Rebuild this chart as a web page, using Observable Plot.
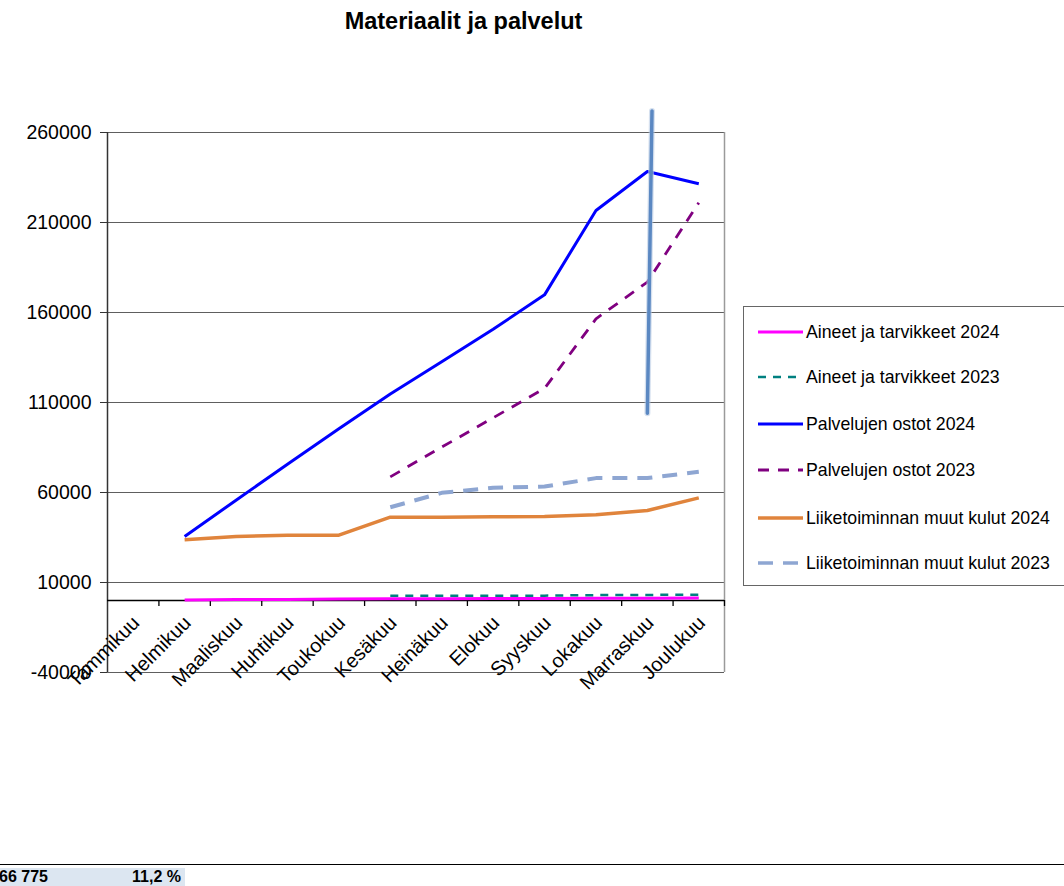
<!DOCTYPE html>
<html><head><meta charset="utf-8">
<script src="https://cdn.jsdelivr.net/npm/d3@7"></script>
<script src="https://cdn.jsdelivr.net/npm/@observablehq/plot@0.6"></script>
<style>
body{margin:0;background:#fff;font-family:"Liberation Sans",Arial,sans-serif;}
#page{position:relative;width:1064px;height:886px;overflow:hidden;background:#fff;}
#title{position:absolute;top:8px;left:0;width:927px;text-align:center;font-weight:bold;font-size:23.5px;color:#000;}
#chart{position:absolute;top:100px;left:0;}
#legend{position:absolute;left:743px;top:306px;width:340px;height:280px;border:1px solid #666;box-sizing:border-box;}
.lrow{position:absolute;left:14px;height:20px;display:flex;align-items:center;font-size:17.7px;color:#000;white-space:nowrap;}
.lrow svg{margin-right:3px;}
#rule{position:absolute;left:0;top:864px;width:1064px;height:0;border-top:1.5px solid #000;}
#cell{position:absolute;left:0;top:868px;width:185px;height:18px;background:#dce6f1;font-weight:bold;font-size:16px;color:#000;}
#cell .a{position:absolute;left:-1px;top:0px;}
#cell .b{position:absolute;right:4px;top:0px;}
</style></head><body><div id="page">
<div id="title">Materiaalit ja palvelut</div>
<div id="chart"></div>
<div id="legend"></div>
<div id="rule"></div>
<div id="cell"><span class="a">66 775</span><span class="b">11,2 %</span></div>
</div>
<script>
const months = ["Tammikuu","Helmikuu","Maaliskuu","Huhtikuu","Toukokuu","Kesäkuu","Heinäkuu","Elokuu","Syyskuu","Lokakuu","Marraskuu","Joulukuu"];
const aineet2024   = [null, 300, 500, 600, 800, 1000, 1000, 1100, 1100, 1200, 1300, 1400];
const aineet2023   = [null, null, null, null, null, 2600, 2600, 2600, 2700, 3000, 3100, 3200];
const palvelut2024 = [null, 35600, 55700, 75700, 95400, 114700, 132600, 150700, 169800, 216700, 238300, 231500];
const palvelut2023 = [null, null, null, null, null, 68700, 85200, 101500, 117800, 156500, 176900, 221000];
const muut2024     = [null, 33700, 35600, 36300, 36300, 46300, 46300, 46500, 46700, 47600, 50000, 57000];
const muut2023     = [null, null, null, null, null, 51800, 59800, 62600, 63300, 68000, 68000, 71500];
const seriesNames  = ["Aineet ja tarvikkeet 2024","Aineet ja tarvikkeet 2023","Palvelujen ostot 2024","Palvelujen ostot 2023","Liiketoiminnan muut kulut 2024","Liiketoiminnan muut kulut 2023"];
const yTicks = [-40000, 10000, 60000, 110000, 160000, 210000, 260000];
// hand-drawn annotation stroke (month index, value)
const annotationX = [10.09, 10.0];
const annotationY = [272000, 104000];

const seriesValues = [aineet2024, aineet2023, palvelut2024, palvelut2023, muut2024, muut2023];
const styles = [
  {stroke:"#ff00ff", width:3, dash:null},
  {stroke:"#008080", width:2.5, dash:"8,7"},
  {stroke:"#0000ff", width:3, dash:null},
  {stroke:"#800080", width:2.8, dash:"11,9"},
  {stroke:"#e0843c", width:3.5, dash:null},
  {stroke:"#8ea6d2", width:4, dash:"15,10"}
];

const seriesMarks = seriesValues.map((vals, k) => {
  const pts = months.map((m, i) => ({i, v: vals[i]})).filter(d => d.v != null);
  const s = styles[k];
  return Plot.line(pts, {x: "i", y: "v", stroke: s.stroke, strokeWidth: s.width,
    strokeDasharray: s.dash || undefined, strokeLinejoin: "round", strokeLinecap: "butt"});
});

const boundaries = months.map((m, i) => i + 0.5);
const annot = annotationX.map((x, i) => ({x, y: annotationY[i]}));

const plot = Plot.plot({
  width: 740, height: 632,
  marginTop: 32, marginBottom: 60, marginLeft: 107, marginRight: 16,
  style: {fontFamily: "'Liberation Sans', Arial, sans-serif", color: "#000", background: "transparent"},
  x: {type: "linear", domain: [-0.5, 11.5], axis: null},
  y: {domain: [-40000, 260000], axis: null},
  marks: [
    Plot.ruleY(yTicks, {stroke: "#5e5e5e", strokeWidth: 1.2}),
    Plot.ruleX([11.5], {stroke: "#9a9a9a", strokeWidth: 1.5}),
    Plot.ruleX([-0.5], {stroke: "#333", strokeWidth: 1.5}),
    Plot.axisY(yTicks, {tickSize: 7, tickPadding: 9, tickFormat: d => String(d), fontSize: 19.5, stroke: "#333"}),
    Plot.ruleY([0], {stroke: "#000", strokeWidth: 1.5}),
    Plot.ruleX(boundaries, {x: d => d, y1: () => 0, y2: () => 0, insetBottom: -6, stroke: "#000", strokeWidth: 1.3}),
    Plot.text(months, {x: (d, i) => i, y: () => 0, text: d => d, rotate: -45, textAnchor: "end", lineAnchor: "middle", dx: 3, dy: 19, fontSize: 20, fill: "#000"}),
    ...seriesMarks,
    Plot.line(annot, {x: "x", y: "y", stroke: "#b9cce4", strokeWidth: 6, strokeOpacity: 0.6}),
    Plot.line(annot, {x: "x", y: "y", stroke: "#5b88c2", strokeWidth: 3.5})
  ]
});
document.getElementById("chart").appendChild(plot);

// legend
const legend = document.getElementById("legend");
const rowTops = [25, 70, 117, 163, 211, 256];
seriesNames.forEach((name, k) => {
  const s = styles[k];
  const row = document.createElement("div");
  row.className = "lrow";
  row.style.top = (rowTops[k] - 10) + "px";
  row.innerHTML = `<svg width="45" height="10"><line x1="0" x2="45" y1="5" y2="5" stroke="${s.stroke}" stroke-width="${Math.min(s.width,3.5)}" ${s.dash ? `stroke-dasharray="${s.dash}"` : ""}/></svg><span>${name}</span>`;
  legend.appendChild(row);
});
</script></body></html>
